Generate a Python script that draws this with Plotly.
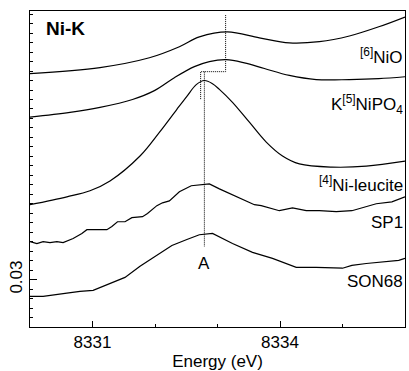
import plotly.graph_objects as go

# Energy axis values (eV) and normalised absorbance values
nio_e = [8330.0, 8331.12, 8331.91, 8332.39, 8332.71, 8333.16, 8333.67, 8334.15, 8334.63, 8335.11, 8335.58, 8336.0]
nio_y = [0.0952, 0.0971, 0.1002, 0.1037, 0.1068, 0.1084, 0.1065, 0.1049, 0.1053, 0.1071, 0.1100, 0.1131]

kpo_e = [8330.0, 8330.64, 8331.12, 8331.64, 8331.99, 8332.31, 8332.63, 8332.87, 8333.14, 8333.43, 8333.75, 8334.15, 8334.58, 8335.11, 8335.58, 8336.0]
kpo_y = [0.0814, 0.0829, 0.0845, 0.0870, 0.0898, 0.0939, 0.0974, 0.0990, 0.0996, 0.0986, 0.0968, 0.0946, 0.0933, 0.0933, 0.0936, 0.0942]

leu_e = [8330.0, 8330.59, 8330.96, 8331.28, 8331.76, 8332.07, 8332.35, 8332.51, 8332.66, 8332.79, 8332.92, 8333.03, 8333.24, 8333.51, 8333.78, 8334.04, 8334.31, 8334.83, 8335.38, 8336.0]
leu_y = [0.0537, 0.0562, 0.0581, 0.0612, 0.0691, 0.0766, 0.0839, 0.0880, 0.0917, 0.0930, 0.0920, 0.0902, 0.0861, 0.0798, 0.0735, 0.0691, 0.0666, 0.0656, 0.0659, 0.0675]

sp1_e = [8330.0, 8330.11, 8330.21, 8330.32, 8330.43, 8330.53, 8330.69, 8330.83, 8330.91, 8331.23, 8331.31, 8331.40,
         8331.52, 8331.63, 8331.80, 8331.88, 8332.03, 8332.12, 8332.23, 8332.39, 8332.58, 8332.71, 8332.87, 8333.03,
         8333.24, 8333.40, 8333.59, 8333.70, 8333.99, 8334.20, 8334.42, 8334.63, 8334.90, 8335.15, 8335.38, 8335.54,
         8335.79, 8336.0]
sp1_y = [0.0420, 0.0414, 0.0420, 0.0417, 0.0420, 0.0417, 0.0430, 0.0446, 0.0458, 0.0458, 0.0468, 0.0483,
         0.0483, 0.0496, 0.0499, 0.0509, 0.0534, 0.0543, 0.0549, 0.0578, 0.0597, 0.0600, 0.0603, 0.0587,
         0.0568, 0.0556, 0.0537, 0.0534, 0.0518, 0.0527, 0.0518, 0.0518, 0.0515, 0.0518, 0.0530, 0.0540,
         0.0546, 0.0562]

son_e = [8330.0, 8330.21, 8330.59, 8330.80, 8331.01, 8331.28, 8331.52, 8331.76, 8332.03, 8332.27, 8332.51, 8332.71,
         8332.92, 8333.24, 8333.56, 8333.88, 8334.26, 8334.58, 8335.0, 8335.15, 8335.38, 8335.90, 8336.0]
son_y = [0.0247, 0.0247, 0.0257, 0.0263, 0.0266, 0.0288, 0.0307, 0.0342, 0.0376, 0.0408, 0.0427, 0.0442,
         0.0446, 0.0414, 0.0386, 0.0367, 0.0339, 0.0339, 0.0336, 0.0345, 0.0351, 0.0361, 0.0367]

# guide lines (energy, value)
guide_top_e = [8333.13, 8333.13, 8332.73, 8332.73]
guide_top_y = [0.1137, 0.0958, 0.0958, 0.0870]
guide_a_e = [8332.79, 8332.79]
guide_a_y = [0.0958, 0.0405]

labels = ["<sup>[6]</sup>NiO", "K<sup>[5]</sup>NiPO<sub>4</sub>", "<sup>[4]</sup>Ni-leucite", "SP1", "SON68"]
label_y = [0.1007, 0.0853, 0.0603, 0.0480, 0.0295]

x_ticks = [8331, 8334]
y_ticks = [0.03]
y_tick_text = ["0.03"]

FONT = "Liberation Sans, Arial, Helvetica, sans-serif"

fig = go.Figure()
for e, y, shape in [(nio_e, nio_y, "spline"), (kpo_e, kpo_y, "spline"), (leu_e, leu_y, "spline"),
                    (sp1_e, sp1_y, "linear"), (son_e, son_y, "linear")]:
    fig.add_trace(go.Scatter(x=e, y=y, mode="lines", line=dict(color="black", width=1.2, shape=shape),
                             showlegend=False, hoverinfo="skip"))

for e, y in [(guide_top_e, guide_top_y), (guide_a_e, guide_a_y)]:
    fig.add_trace(go.Scatter(x=e, y=y, mode="lines", line=dict(color="black", width=1, dash="1px,1px"),
                             showlegend=False, hoverinfo="skip"))

for t, y in zip(labels, label_y):
    fig.add_annotation(x=1.0, xref="paper", y=y, yref="y", text=t, showarrow=False,
                       xanchor="right", yanchor="middle", font=dict(size=17, color="black", family=FONT))

fig.add_annotation(x=guide_a_e[0], y=0.0351, xref="x", yref="y", text="A", showarrow=False,
                   xanchor="center", yanchor="middle", font=dict(size=17, color="black", family=FONT))
fig.add_annotation(x=0.038, y=0.946, xref="paper", yref="paper", text="<b>Ni-K</b>", showarrow=False,
                   xanchor="left", yanchor="middle", font=dict(size=19, color="black", family=FONT))

fig.update_layout(
    width=409, height=371,
    margin=dict(l=30, r=3, t=11, b=42),
    paper_bgcolor="white", plot_bgcolor="white",
    font=dict(family=FONT, size=17, color="black"),
)
fig.update_xaxes(
    range=[8330, 8336], tickmode="array", tickvals=x_ticks, ticks="inside", ticklen=6,
    tickcolor="black", showline=True, linecolor="black", linewidth=1, mirror=True,
    showgrid=False, zeroline=False,
    minor=dict(tickmode="linear", tick0=8330, dtick=1, ticks="inside", ticklen=3, tickcolor="black"),
    title=dict(text="Energy (eV)", standoff=4, font=dict(size=17)),
    tickfont=dict(size=17),
)
fig.update_yaxes(
    range=[0.015, 0.115], tickmode="array", tickvals=y_ticks, ticktext=y_tick_text, ticks="inside",
    ticklen=7, tickcolor="black", tickangle=-90, showline=True, linecolor="black", linewidth=1, mirror=True,
    showgrid=False, zeroline=False,
    minor=dict(tickmode="linear", tick0=0.03, dtick=0.003, ticks="inside", ticklen=3, tickcolor="black"),
    tickfont=dict(size=17),
)

fig.write_html("out.html")
